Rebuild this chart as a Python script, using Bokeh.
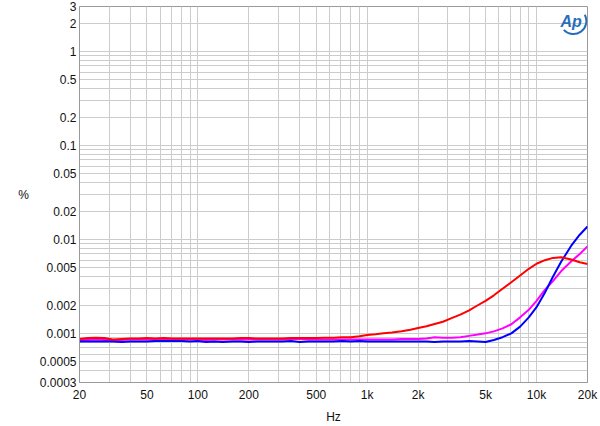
from bokeh.plotting import figure
from bokeh.models import FixedTicker, Range1d, Label
from bokeh.embed import file_html
from bokeh.resources import INLINE

# ---- data ----
freq = [20, 22.4, 25, 28, 31.5, 35.5, 40, 45, 50, 56, 63, 71, 80, 90, 100, 112, 125, 140, 160, 180,
        200, 224, 250, 280, 315, 355, 400, 450, 500, 560, 630, 710, 800, 900, 1000, 1120, 1250, 1400,
        1600, 1800, 2000, 2240, 2500, 2800, 3150, 3550, 4000, 4500, 5000, 5600, 6300, 7100, 8000, 9000,
        10000, 11200, 12500, 14000, 16000, 18000, 20000]

red = [0.00087, 0.00089, 0.00090, 0.00089, 0.00086, 0.00087, 0.00088, 0.00088, 0.00089, 0.00088,
       0.00089, 0.00088, 0.00088, 0.00088, 0.00088, 0.00088, 0.00088, 0.00088, 0.00088, 0.00089,
       0.00089, 0.00088, 0.00088, 0.00088, 0.00088, 0.00089, 0.00089, 0.00089, 0.00089, 0.00090,
       0.00090, 0.00091, 0.00091, 0.00093, 0.00096, 0.00098, 0.00100, 0.00102, 0.00105, 0.00109,
       0.00114, 0.00119, 0.00126, 0.00133, 0.00145, 0.00158, 0.00176, 0.00199, 0.00222, 0.00254,
       0.00298, 0.00350, 0.00413, 0.00486, 0.00550, 0.00600, 0.00635, 0.00645, 0.00610, 0.00570,
       0.00548]

magenta = [0.00085, 0.00085, 0.00086, 0.00085, 0.00085, 0.00085, 0.00086, 0.00086, 0.00086, 0.00086,
           0.00087, 0.00086, 0.00086, 0.00086, 0.00086, 0.00085, 0.00086, 0.00086, 0.00086, 0.00086,
           0.00086, 0.00086, 0.00086, 0.00086, 0.00086, 0.00087, 0.00087, 0.00086, 0.00086, 0.00086,
           0.00086, 0.00086, 0.00086, 0.00086, 0.00086, 0.00086, 0.00086, 0.00086, 0.00087, 0.00087,
           0.00087, 0.00088, 0.00091, 0.00090, 0.00090, 0.00091, 0.00094, 0.00097, 0.00100, 0.00105,
           0.00113, 0.00125, 0.00148, 0.00178, 0.00222, 0.00290, 0.00360, 0.00460, 0.00580, 0.00700,
           0.00840]

blue = [0.00082, 0.00082, 0.00082, 0.00082, 0.00082, 0.00081, 0.00082, 0.00082, 0.00082, 0.00083,
        0.00083, 0.00083, 0.00083, 0.00082, 0.00083, 0.00081, 0.00082, 0.00081, 0.00082, 0.00082,
        0.00081, 0.00082, 0.00082, 0.00082, 0.00082, 0.00083, 0.00081, 0.00082, 0.00082, 0.00082,
        0.00082, 0.00083, 0.00082, 0.00083, 0.00082, 0.00082, 0.00082, 0.00082, 0.00082, 0.00082,
        0.00082, 0.00082, 0.00081, 0.00082, 0.00082, 0.00082, 0.00083, 0.00082, 0.00081, 0.00085,
        0.00091, 0.00100, 0.00118, 0.00148, 0.00190, 0.00270, 0.00400, 0.00580, 0.00850, 0.01120,
        0.01370]

x_ticks = [20, 50, 100, 200, 500, 1000, 2000, 5000, 10000, 20000]
x_tick_labels = ["20", "50", "100", "200", "500", "1k", "2k", "5k", "10k", "20k"]
x_minor = [30, 40, 60, 70, 80, 90, 300, 400, 600, 700, 800, 900,
           3000, 4000, 6000, 7000, 8000, 9000]

y_ticks = [0.0003, 0.0005, 0.001, 0.002, 0.005, 0.01, 0.02, 0.05, 0.1, 0.2, 0.5, 1, 2, 3]
y_tick_labels = ["0.0003", "0.0005", "0.001", "0.002", "0.005", "0.01", "0.02", "0.05",
                 "0.1", "0.2", "0.5", "1", "2", "3"]
y_minor = [0.0004, 0.0006, 0.0007, 0.0008, 0.0009, 0.003, 0.004, 0.006, 0.007, 0.008, 0.009,
           0.03, 0.04, 0.06, 0.07, 0.08, 0.09, 0.3, 0.4, 0.6, 0.7, 0.8, 0.9]

FONT = "Liberation Sans"
GRID = "#cccccc"
FRAME = "#9a9a9a"
TEXT = "#111111"

p = figure(width=600, height=426, x_axis_type="log", y_axis_type="log",
           x_range=Range1d(20, 20000), y_range=Range1d(0.0003, 3),
           output_backend="svg", toolbar_location=None,
           min_border_left=79, min_border_right=13, min_border_top=6, min_border_bottom=43)
p.background_fill_color = "white"
p.border_fill_color = "white"
p.outline_line_color = FRAME

xt = FixedTicker(ticks=x_ticks, minor_ticks=x_minor)
yt = FixedTicker(ticks=y_ticks, minor_ticks=y_minor)
p.xaxis.ticker = xt
p.yaxis.ticker = yt
p.xgrid.ticker = xt
p.ygrid.ticker = yt
for g in (p.xgrid, p.ygrid):
    g.grid_line_color = GRID
    g.minor_grid_line_color = GRID
    g.grid_line_width = 1
    g.minor_grid_line_width = 1

p.xaxis.major_label_overrides = dict(zip(x_ticks, x_tick_labels))
p.yaxis.major_label_overrides = dict(zip(y_ticks, y_tick_labels))

for ax in (p.xaxis, p.yaxis):
    ax.axis_line_color = FRAME
    ax.major_tick_line_color = None
    ax.minor_tick_line_color = None
    ax.major_tick_out = 0
    ax.minor_tick_out = 0
    ax.major_label_text_font = FONT
    ax.major_label_text_font_size = "12px"
    ax.major_label_text_color = TEXT
    ax.axis_label_text_font = FONT
    ax.axis_label_text_font_size = "12px"
    ax.axis_label_text_font_style = "normal"
    ax.axis_label_text_color = TEXT

p.xaxis.axis_label = "Hz"
p.xaxis.major_label_standoff = 5
p.xaxis.axis_label_standoff = 5
p.yaxis.axis_label = "%"
p.yaxis.axis_label_orientation = "horizontal"
p.yaxis.major_label_standoff = 3
p.yaxis.axis_label_standoff = 8

p.line(freq, magenta, line_color="#ff00ff", line_width=2)
p.line(freq, blue, line_color="#0000ff", line_width=2)
p.line(freq, red, line_color="#ff0000", line_width=2)

# AP logo
p.arc(x=[16500], y=[2.1], radius=13, radius_units="screen", start_angle=-2.4, end_angle=0.5,
      line_color="#2a6ebb", line_width=2)
p.add_layout(Label(x=16000, y=2.1, text="Ap", text_font=FONT, text_font_style="bold italic",
                   text_color="#2a6ebb", text_font_size="16px", text_align="center",
                   text_baseline="middle"))

open("out.html", "w").write(file_html(p, INLINE))
